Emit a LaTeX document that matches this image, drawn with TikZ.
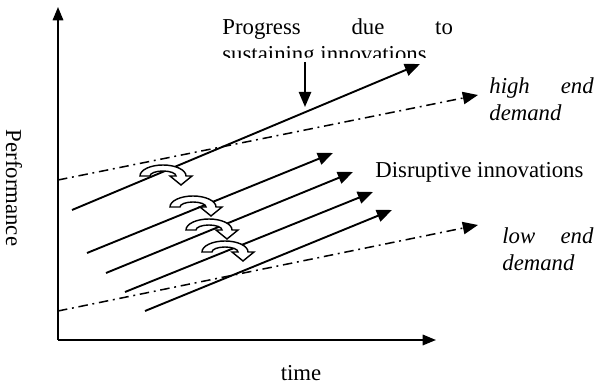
\documentclass[tikz,border=0pt]{standalone}
\usepackage{fontspec}
\setmainfont{Liberation Serif}
\usetikzlibrary{arrows.meta}
\hyphenpenalty=10000

\begin{document}
\begin{tikzpicture}[
  x=0.527pt, y=-0.527pt,
  font=\fontsize{12}{14.4}\selectfont,
  axis/.style={-{Triangle[length=7pt, width=5.5pt]}, line width=1pt},
  trend/.style={-{Triangle[length=8pt, width=6.5pt]}, line width=1pt},
  demand/.style={-{Triangle[length=8pt, width=6.5pt]}, line width=0.8pt,
    dash pattern=on 5pt off 2.5pt on 1pt off 2.5pt},
  para/.style={inner sep=0pt, align=justify, anchor=north west},
  uturn line/.style={draw, fill=white, line width=0.75pt, line join=miter},
  uturn/.pic={
    \path[uturn line] (-23,0) arc[start angle=180, end angle=360, x radius=23, y radius=11]
      -- (29,0) -- (18,9) -- (7,0) -- (13,0)
      arc[start angle=360, end angle=180, x radius=13, y radius=5] -- cycle;
  },
]
\useasboundingbox (0,0) rectangle (597,387);

% ── axes ──────────────────────────────────────────────────────────────────
\coordinate (O) at (58,340);
\coordinate (ytop) at (58,7);
\coordinate (xend) at (436,340);
\draw[axis] (O) -- (ytop);
\draw[axis] (O) -- (xend);
\node[rotate=-90] (perf) at (14,188) {Performance};
\node[anchor=base] (time) at (301,381) {time};

% ── demand trajectories ───────────────────────────────────────────────────
\coordinate (hi0) at (58,180);  \coordinate (hi1) at (478,95);
\coordinate (lo0) at (58,311);  \coordinate (lo1) at (478,225);
\draw[demand] (hi0) -- (hi1);
\draw[demand] (lo0) -- (lo1);
\node[para, text width=55pt] (hilab) at (489,77) {\itshape high end demand};
\node[para, text width=48pt] (lolab) at (502,227) {\itshape low end demand};

% ── sustaining and disruptive innovations ─────────────────────────────────
\coordinate (s0) at (72,210);   \coordinate (s1) at (420,64);
\coordinate (d10) at (87,253);  \coordinate (d11) at (333,153);
\coordinate (d20) at (106,273); \coordinate (d21) at (353,172);
\coordinate (d30) at (125,292); \coordinate (d31) at (373,192);
\coordinate (d40) at (145,311); \coordinate (d41) at (392,210);
\draw[trend] (s0) -- (s1);
\draw[trend] (d10) -- (d11);
\draw[trend] (d20) -- (d21);
\draw[trend] (d30) -- (d31);
\draw[trend] (d40) -- (d41);

% ── u-turn jumps ──────────────────────────────────────────────────────────
\pic at (163,176) {uturn};
\pic at (193,207) {uturn};
\pic at (209,230) {uturn};
\pic at (225,252) {uturn};

% ── labels ────────────────────────────────────────────────────────────────
\begin{scope}
  \clip (0,0) rectangle (597,58);
  \node[para, text width=121.5pt] (prog) at (222,18) {Progress due to sustaining innovations};
\end{scope}
\coordinate (progfoot) at (305,62);
\coordinate (progtip) at (305,107);
\draw[trend] (progfoot) -- (progtip);
\node[anchor=base west, inner sep=0pt] (disr) at (375,178) {Disruptive innovations};
\end{tikzpicture}
\end{document}
